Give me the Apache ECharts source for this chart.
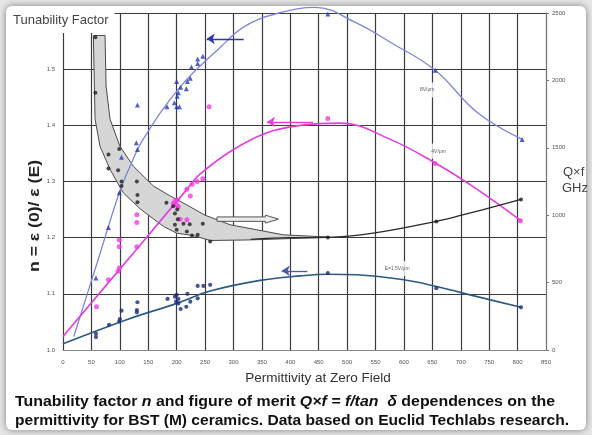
<!DOCTYPE html>
<html><head><meta charset="utf-8">
<script src="https://cdn.jsdelivr.net/npm/echarts@6/dist/echarts.min.js"></script>
<style>
html,body{margin:0;padding:0;background:#e6e6e6;width:592px;height:435px;overflow:hidden;}
#card{position:absolute;left:6px;top:6px;width:580px;height:424px;background:#fff;border-radius:6px;box-shadow:0 0 7px rgba(0,0,0,0.45);}
#c{position:absolute;left:0;top:0;width:592px;height:435px;}
</style>
</head><body><div id="card"></div><div id="c"></div>
<script>
// ---- data (x = permittivity, y = tunability n; right axis Q×f maps 0..2500 onto 1.0..1.6) ----
const xTicks = ['0','50','100','150','200','250','300','350','400','450','500','550','600','650','700','750','800','850'];
const leftTicks = ['1.0','1.1','1.2','1.3','1.4','1.5',''];
const rightTicks = ['0','500','1000','1500','2000','2500'];

const blue8Curve = [[19,1.024],[60,1.155],[99,1.280],[118,1.327],[141,1.375],[206,1.468],[277,1.539],[321,1.577],[380,1.600],[444,1.610],[517,1.582],[576,1.548],[655,1.498],[729,1.423],[808,1.375]];
const magentaCurve = [[0,1.024],[130,1.180],[218,1.286],[241,1.313],[300,1.357],[359,1.387],[418,1.400],[488,1.404],[576,1.375],[655,1.333],[729,1.286],[806,1.230]];
const darkCurve = [[0,1.011],[112,1.054],[200,1.083],[259,1.105],[347,1.124],[418,1.132],[466,1.135],[517,1.134],[600,1.125],[657,1.113],[729,1.095],[806,1.076]];
const blackCurve = [[330,1.197],[400,1.200],[466,1.2005],[546,1.208],[657,1.229],[705,1.241],[806,1.268]];

const bandUpper = [[74,1.560],[75.8,1.470],[82.8,1.411],[100,1.363],[124,1.327],[159,1.292],[189,1.274],[206,1.265],[250,1.240],[294,1.223],[388,1.205],[470,1.201]];
const bandLower = [[53.4,1.560],[56.4,1.411],[65,1.363],[83,1.321],[106,1.280],[136,1.251],[177,1.220],[200,1.208],[230,1.2036],[259,1.195],[330,1.196],[418,1.199],[470,1.201]];

const blue8Pts = [[131,1.436],[183,1.433],[196,1.440],[200,1.433],[205,1.433],[201,1.452],[203,1.458],[200,1.478],[207,1.468],[217,1.465],[219,1.478],[224,1.484],[226,1.504],[237,1.510],[237,1.518],[246,1.523],[129,1.369],[131,1.357],[103,1.343],[99,1.280],[80,1.218],[58,1.128],[466,1.598],[655,1.498],[808,1.375]];
const magentaPts = [[257,1.433],[246,1.305],[236,1.300],[227,1.295],[218,1.286],[224,1.274],[197,1.265],[201,1.267],[194,1.261],[203,1.255],[200,1.258],[206,1.233],[218,1.232],[130,1.241],[130,1.227],[99,1.196],[99,1.184],[130,1.184],[99,1.146],[97,1.140],[80,1.125],[59,1.077],[466,1.412],[655,1.332],[805,1.230]];
const darkPts = [[58,1.029],[58,1.023],[81,1.045],[99,1.051],[100,1.055],[103,1.070],[130,1.071],[130,1.067],[131,1.085],[184,1.091],[197,1.095],[200,1.098],[203,1.091],[199,1.086],[203,1.083],[207,1.073],[217,1.077],[219,1.100],[224,1.086],[237,1.092],[237,1.114],[247,1.114],[259,1.116],[466,1.137],[657,1.110],[806,1.076]];
const blackPts = [[57,1.557],[57,1.458],[80,1.348],[99,1.358],[80,1.323],[97,1.320],[103,1.300],[103,1.292],[130,1.300],[131,1.276],[131,1.263],[182,1.262],[194,1.256],[201,1.250],[197,1.243],[202,1.233],[197,1.223],[212,1.225],[223,1.224],[200,1.214],[218,1.211],[227,1.204],[237,1.205],[246,1.225],[259,1.193],[466,1.2005],[657,1.229],[806,1.268]];

const curveLabels = [{name:'8V/μm', value:[641,1.463]},{name:'4V/μm', value:[661,1.354]},{name:'E=1.5V/μm', value:[588,1.145]}];
const hollowArrow = [[271,1.234,379,1.232]];
const blueArrow = [[318,1.554],[253,1.554]];
const magentaArrow = [[440,1.406],[359,1.406]];
const darkArrow = [[430,1.141],[385,1.141]];

const FONT = '"Liberation Sans", Arial, sans-serif';
const chart = echarts.init(document.getElementById('c'), null, {renderer:'canvas'});

const cv = document.createElement('canvas').getContext('2d');
function measure(segs, size){
  let w = 0;
  segs.forEach(s => { cv.font = s[1] + ' ' + size + 'px ' + FONT; w += cv.measureText(s[0]).width; });
  return w;
}
const cap1 = [['Tunability factor ','bold'],['n','italic bold'],[' and figure of merit ','bold'],['Q×f = f/tan  δ','italic bold'],[' dependences on the','bold']];
const cap2 = [['permittivity for BST (M) ceramics. Data based on Euclid Techlabs research.','bold']];
const yTitle = 'n = ε (0)/ ε (E)';
const s1 = 540 / measure(cap1, 14), s2 = 554 / measure(cap2, 14);
const sY = 112 / measure([[yTitle,'bold']], 15);
function richText(segs){ return segs.map(s => '{' + (s[1]==='bold'?'b':'bi') + '|' + s[0] + '}').join(''); }
const rich = {b:{fontSize:14,fontWeight:'bold',fontFamily:FONT,fill:'#111'}, bi:{fontSize:14,fontWeight:'bold',fontStyle:'italic',fontFamily:FONT,fill:'#111'}};

const gridLine = {show:true, lineStyle:{color:'#3c3c3c', width:1.2}};
const arrowML = (pts, color) => ({silent:true, symbol:['none','arrow'], symbolSize:8, animation:false,
  lineStyle:{color:color, width:1.3, type:'solid'}, label:{show:false}, emphasis:{disabled:true},
  data:[[{coord:pts[0]},{coord:pts[1]}]]});

chart.setOption({
  animation:false,
  backgroundColor:'transparent',
  grid:{left:63, right:46, top:13, bottom:85},
  xAxis:{type:'value', min:0, max:850, interval:50,
    axisLine:{show:true, lineStyle:{color:'#888'}}, axisTick:{show:false},
    axisLabel:{fontSize:6, color:'#555', margin:9, fontFamily:FONT, formatter:v => xTicks[Math.round(v/50)]},
    splitLine:gridLine},
  yAxis:[
    {type:'value', min:1.0, max:1.6, interval:0.1, position:'left',
     axisLine:{show:false}, axisTick:{show:false},
     axisLabel:{fontSize:6, color:'#555', margin:8, fontFamily:FONT, formatter:v => leftTicks[Math.round((v-1)*10)]},
     splitLine:gridLine},
    {type:'value', min:0, max:2500, interval:500, position:'right',
     axisLine:{show:true, lineStyle:{color:'#777'}}, axisTick:{show:true, length:3, lineStyle:{color:'#777'}},
     axisLabel:{fontSize:6, color:'#555', margin:6, fontFamily:FONT, formatter:v => rightTicks[Math.round(v/500)]},
     splitLine:{show:false}}
  ],
  series:[
    {type:'custom', z:1, silent:true, data:[[100,1.3]],
     renderItem:(params, api) => {
       const pts = bandUpper.concat(bandLower.slice().reverse()).map(p => api.coord(p));
       return {type:'polygon', shape:{points:pts}, style:{fill:'#d6d6d6', stroke:'#4a4a4a', lineWidth:1}};
     }},
    {type:'line', name:'8V/μm', data:blue8Curve, smooth:0.4, showSymbol:false, clip:false, z:3,
     lineStyle:{color:'#7d86d8', width:1.3}, markLine:arrowML(blueArrow,'#2838b8')},
    {type:'line', name:'4V/μm', data:magentaCurve, smooth:0.4, showSymbol:false, z:3,
     lineStyle:{color:'#e03fe0', width:1.6}, markLine:arrowML(magentaArrow,'#e040e0')},
    {type:'line', name:'1.5V/μm', data:darkCurve, smooth:0.4, showSymbol:false, z:3,
     lineStyle:{color:'#2d5a82', width:1.6}, markLine:arrowML(darkArrow,'#4a5aa8')},
    {type:'line', name:'band', data:blackCurve, smooth:0.4, showSymbol:false, z:3,
     lineStyle:{color:'#2a2a2a', width:1.3}},
    {type:'scatter', data:blue8Pts, symbol:'triangle', symbolSize:5, clip:false, z:5, itemStyle:{color:'#2838b8'}},
    {type:'scatter', data:magentaPts, symbol:'circle', symbolSize:5, z:5, itemStyle:{color:'#f23ce2'}},
    {type:'scatter', data:darkPts, symbol:'circle', symbolSize:4.2, z:5, itemStyle:{color:'#1c2c7c'}},
    {type:'scatter', data:blackPts, symbol:'circle', symbolSize:4, z:5, itemStyle:{color:'#1e1e1e'}},
    {type:'custom', z:4, silent:true, data:hollowArrow,
     renderItem:(params, api) => {
       const a = api.coord([api.value(0), api.value(1)]);
       const b = api.coord([api.value(2), api.value(3)]);
       const y = (a[1]+b[1])/2, hl = 13, sh = 2.2, hh = 4;
       return {type:'polygon', shape:{points:[[a[0],y-sh],[b[0]-hl,y-sh],[b[0]-hl,y-hh],[b[0],y],[b[0]-hl,y+hh],[b[0]-hl,y+sh],[a[0],y+sh]]},
               style:{fill:'#ececec', stroke:'#555', lineWidth:1}};
     }},
    {type:'scatter', data:curveLabels, symbolSize:0, z:6, silent:true,
     label:{show:true, position:'inside', formatter:p => p.name, fontSize:5, color:'#333', fontFamily:FONT,
            backgroundColor:'#fff', padding:[5,2]}}
  ],
  graphic:[
    {type:'text', x:10, y:20, z:100, style:{text:'Tunability Factor', font:'13px ' + FONT, fill:'#444', align:'left', verticalAlign:'middle',
      backgroundColor:'#fff', padding:[6,6,7,3]}},
    {type:'text', x:35, y:216, rotation:Math.PI/2, scaleX:sY, z:100, style:{text:yTitle, font:'bold 15px ' + FONT, fill:'#222', align:'center', verticalAlign:'middle'}},
    {type:'text', x:563, y:172, z:100, style:{text:'Q×f', font:'13px ' + FONT, fill:'#444', align:'left', verticalAlign:'middle'}},
    {type:'text', x:562, y:188, z:100, style:{text:'GHz', font:'13px ' + FONT, fill:'#444', align:'left', verticalAlign:'middle'}},
    {type:'text', x:318, y:378, z:100, style:{text:'Permittivity at Zero Field', font:'13.5px ' + FONT, fill:'#333', align:'center', verticalAlign:'middle'}},
    {type:'text', x:15, y:402, scaleX:s1, z:100, style:{text:richText(cap1), rich:rich, align:'left', verticalAlign:'middle'}},
    {type:'text', x:15, y:421, scaleX:s2, z:100, style:{text:richText(cap2), rich:rich, align:'left', verticalAlign:'middle'}}
  ]
});
</script>
</body></html>
